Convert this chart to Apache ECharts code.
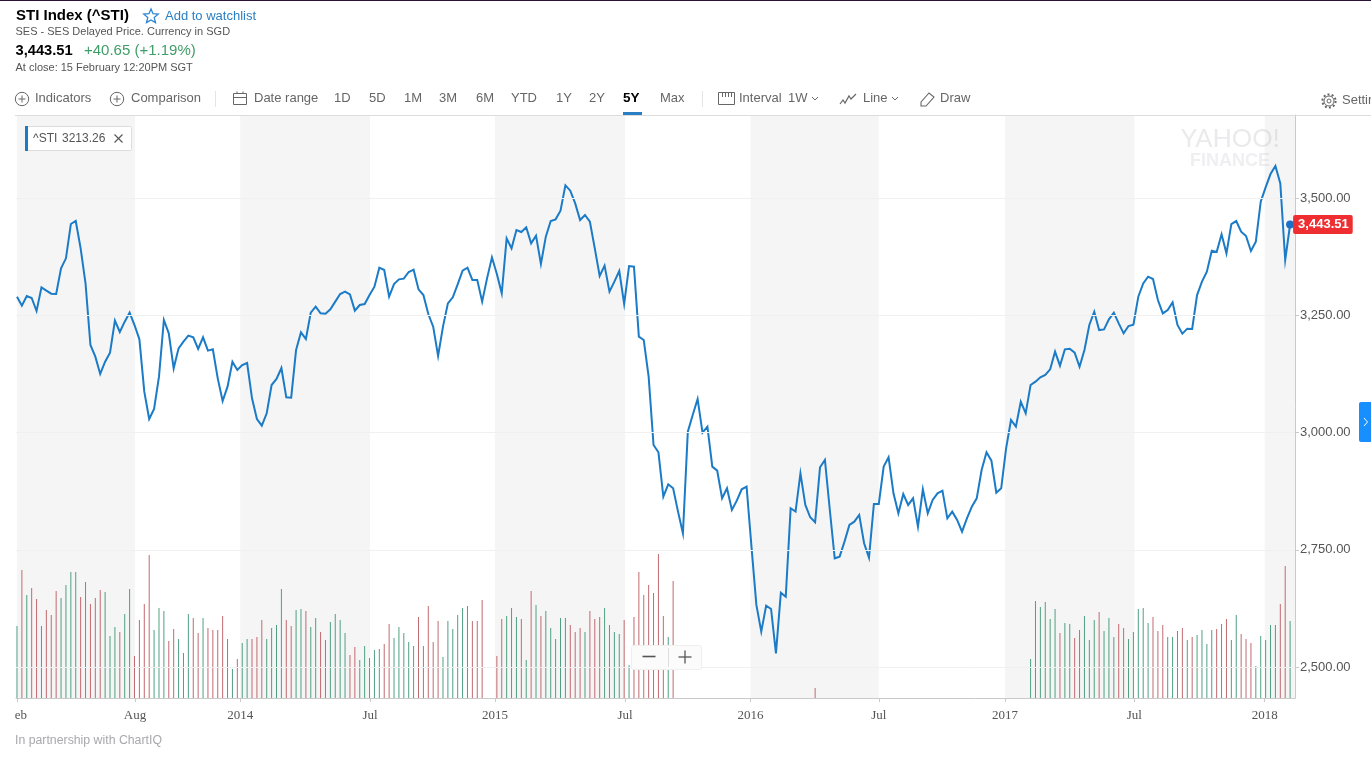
<!DOCTYPE html>
<html><head><meta charset="utf-8">
<style>html,body{margin:0;padding:0;background:#fff;overflow:hidden}#c{width:1371px;height:772px}</style>
<script src="https://cdn.jsdelivr.net/npm/echarts@6/dist/echarts.min.js"></script>
</head><body><div id="c"></div>
<script>
// ---- weekly closing prices (index = bar number) ----
const prices = [
3289.6,3270.5,3291.1,3286.8,3259.1,3309.5,3302.4,3296,3295.3,3350,
3371.4,3444.6,3451,3392.7,3318.1,3186.6,3161.7,3124.8,3151,3170.2,
3238.5,3214.3,3236.3,3255.5,3229.2,3198.7,3087.1,3028.8,3050.1,3119.1,
3239.9,3211.5,3136.8,3179.5,3193.7,3206.5,3202.9,3178.1,3202.9,3174.5,
3177.3,3115.5,3067.2,3097.7,3151,3133.3,3143.9,3148.2,3072.9,3028.8,
3014.6,3040.9,3101.3,3114.1,3137.5,3075,3074.3,3175.9,3213.6,3199.4,
3255.5,3268.3,3254.1,3253.4,3262.6,3279,3295.3,3300.3,3294.6,3259.8,
3271.9,3274,3293.2,3311,3351.5,3346.5,3289.6,3316.6,3326.6,3328,
3342.2,3347.2,3305.3,3293.2,3252.7,3225.7,3163.1,3225.7,3275.4,3288.2,
3315.9,3345.1,3351.5,3325.2,3325.2,3279,3328.7,3373.5,3338,3296.7,
3414,3392.7,3431.8,3427.5,3437.5,3403.3,3419.7,3359.3,3417.6,3451,
3454.5,3473,3527,3515.6,3488.6,3453.1,3463.8,3449.5,3392.7,3333.7,
3355.7,3300.3,3321.6,3344.4,3274,3355,3353.6,3204.3,3197.2,3119.1,
2973.4,2957.8,2863.2,2889.5,2881,2831.3,2785.1,3001.8,3037.4,3071.5,
2999.7,3012.5,2927.2,2918.7,2859.7,2881,2834.8,2854.7,2878.9,2884.6,
2756.6,2632.3,2575.4,2630.8,2623.7,2529.2,2658.6,2650,2838.4,2831.3,
2913,2845.5,2819.2,2808.5,2925.8,2941.4,2834.8,2731.8,2735.3,2767.3,
2802.8,2809.9,2824.2,2763.8,2733.2,2847.6,2847.6,2927.2,2947.1,2870.4,
2827.7,2868.9,2845.5,2859.7,2799.3,2878.9,2827.7,2856.1,2870.4,2876,
2817,2831.3,2813.5,2788.6,2817,2841.8,2859.6,2920,2957.7,2939.9,
2871.7,2880.9,2966.2,3026.6,3012.4,3065.7,3040.9,3101.3,3108.4,3117.6,
3122.6,3134.7,3172.3,3142.5,3177.3,3178.7,3170.2,3140.3,3175.9,3229.2,
3257.6,3218.5,3219.9,3241.3,3255.5,3232.7,3211.4,3227.1,3229.9,3289.6,
3318,3332.2,3327.3,3282.5,3254.1,3261.2,3277.5,3229.2,3210.7,3221.4,
3220.7,3293.1,3321.6,3342.9,3387.7,3384.8,3422.5,3382,3444.5,3450.9,
3428.2,3418.9,3387,3406.9,3492.1,3522.7,3551.1,3568.2,3531.2,3367.8,
3443.51];

// ---- volume per week in relative units (no scale in the picture); null = no bar ----
const volumes = [
72,128,103,110,99,72,88,83,107,100,
113,126,126,101,116,94,100,108,106,62,
71,66,84,109,42,78,94,143,68,90,
87,57,69,59,45,84,80,65,80,70,
68,68,82,59,29,39,55,59,59,61,
78,59,70,73,109,78,72,88,89,87,
71,80,66,58,76,84,78,65,43,51,
38,52,40,48,49,54,74,60,71,65,
56,52,81,52,92,56,77,41,77,69,
83,90,92,77,77,98,null,null,42,79,
82,90,81,79,38,107,93,82,87,70,
59,80,80,73,66,70,66,87,79,81,
90,73,66,64,78,33,81,126,103,113,
105,144,82,61,117,null,null,null,null,null,
null,null,null,null,null,null,null,null,null,null,
null,null,null,null,null,null,null,null,null,null,
null,null,null,10,null,null,null,null,null,null,
null,null,null,null,null,null,null,null,null,null,
null,null,null,null,null,null,null,null,null,null,
null,null,null,null,null,null,null,null,null,null,
null,null,null,null,null,null,null,39,97,91,
96,79,89,65,75,74,60,68,82,58,
78,86,67,80,61,74,70,59,66,89,
90,75,81,67,73,61,61,67,70,58,
61,63,68,54,68,69,74,79,58,83,
64,59,55,32,62,58,73,73,94,132,
77];

// G = higher week, R = lower week, . = no bar
const volumeSides = [
"GRGRRGRRRG","GGGRRRRRGG","GRGGRRRRGG","GRRGGGRRGR","RRRGGRGGRR",
"RGGGGRRGGR","GGRRGGGGRR","GGGGGRRGGG","GGRRRRRGGG","GGGRRR..RR",
"GRGRGRGRGG","GGGRRRGRRR","GRGGRGRRRR","RRRGR.....","..........",
"..........","...R......","..........","..........","..........",
".......GGG","GGGRGGRRGG","GRGGGRRGGG","GGRRRGGRRG","RGGGGRGRGG",
"RRRGGGGGRR","G"].join("");

const priceTicks = [2500, 2750, 3000, 3250, 3500];
const dateTickIndex = [0, 24.1, 45.6, 72.1, 97.6, 124.2, 149.8, 176, 201.8, 228.2, 254.8];
const dateTickLabels = ["eb", "Aug", "2014", "Jul", "2015", "Jul", "2016", "Jul", "2017", "Jul", "2018"];
const lastClose = 3443.51;

const SANS = "'Liberation Sans', Arial, sans-serif";
const BLUE = "#1b7bc6";

// ---- page chrome, drawn through the chart's graphic layer ----
const g = [];
function text(x, y, s, size, fill, opt) {
  opt = opt || {};
  g.push({type:"text", z:opt.z||20, silent:true, style:{x:x, y:y, text:s, fill:fill,
    font:(opt.weight?opt.weight+" ":"")+size+"px "+(opt.family||SANS),
    textAlign:opt.align||"left", textVerticalAlign:"middle", verticalAlign:"middle", opacity:opt.opacity==null?1:opt.opacity}});
}
function line(x1,y1,x2,y2,c,w,z){g.push({type:"line",z:z||20,silent:true,shape:{x1,y1,x2,y2},style:{stroke:c,lineWidth:w||1}});}
function poly(points,c,w){g.push({type:"polyline",z:20,silent:true,shape:{points},style:{stroke:c,lineWidth:w||1,fill:null}});}
function polygon(points,c,w){g.push({type:"polygon",z:20,silent:true,shape:{points},style:{stroke:c,lineWidth:w||1,fill:"none"}});}
function rect(x,y,w,h,fill,stroke,r,z){g.push({type:"rect",z:z||20,silent:true,shape:{x,y,width:w,height:h,r:r||0},style:{fill:fill,stroke:stroke||null,lineWidth:1}});}
function circle(cx,cy,r,c,w,dash){g.push({type:"circle",z:20,silent:true,shape:{cx,cy,r},style:{stroke:c,lineWidth:w||1,fill:"none",lineDash:dash||null}});}

const GREY="#666", DARK="#555", TS=13;
rect(0,0,1371,1,"#2b1237");
text(16,16,"STI Index (^STI)",15,"#000",{weight:"bold"});
const star=[];for(let k=0;k<10;k++){const a=-Math.PI/2+k*Math.PI/5,r=k%2?3.4:7.6;star.push([151+r*Math.cos(a),16.5+r*Math.sin(a)]);}
polygon(star,"#2b86d4",1.3);
text(165,16.5,"Add to watchlist",13,"#2a7fc4");
text(15.5,32,"SES - SES Delayed Price. Currency in SGD",11,DARK);
text(15.5,51,"3,443.51",14.7,"#000",{weight:"bold"});
text(84,51,"+40.65 (+1.19%)",15,"#3f9e68");
text(15.5,67.5,"At close: 15 February 12:20PM SGT",11,DARK);

const TY=98.5;
[[22,"Indicators",35],[117,"Comparison",131]].forEach(function(a){
  circle(a[0],TY+0.5,6.7,GREY,1); line(a[0]-3.5,TY+0.5,a[0]+3.5,TY+0.5,GREY,1); line(a[0],TY-3,a[0],TY+4,GREY,1);
  text(a[2],TY,a[1],TS,GREY);
});
line(215.5,91,215.5,107,"#e4e4e4");
rect(233.5,93.5,13,11,"none",GREY); line(233.5,97.5,246.5,97.5,GREY); line(237,91.5,237,94,GREY); line(243,91.5,243,94,GREY);
text(254,TY,"Date range",TS,GREY);
[["1D",334],["5D",369],["1M",404],["3M",439],["6M",476],["YTD",511],["1Y",556],["2Y",589]].forEach(function(a){text(a[1],TY,a[0],TS,GREY);});
text(623,TY,"5Y",13.5,"#000",{weight:"bold"});
rect(623,112,19,3,"#2a7fc4");
text(660,TY,"Max",TS,GREY);
line(702.5,91,702.5,107,"#e4e4e4");
rect(718.5,92.5,16,12,"none",GREY); [722,725,728,731].forEach(function(x){line(x+.5,92.5,x+.5,97,GREY);});
text(739,TY,"Interval",TS,GREY); text(788,TY,"1W",TS,GREY);
poly([[812,97],[815,100],[818,97]],GREY);
poly([[840,104],[843,100],[845,103],[849,96],[851,99],[856,94]],GREY,1.2);
text(863,TY,"Line",TS,GREY);
poly([[892,97],[895,100],[898,97]],GREY);
polygon([[921,102],[929,93],[934,97],[926,106],[921,106]],GREY,1.1);
text(940,TY,"Draw",TS,GREY);
circle(1329,101,2,GREY,1); circle(1329,101,5,GREY,1); circle(1329,101,6.6,GREY,2,[2,2.2]);
text(1342,TY+2,"Settings",TS,GREY);
line(15,115.5,1371,115.5,"#dcdcdc",1,9);

// series legend tag
rect(25.5,126.5,106,24,"#fff","#ddd",1);
rect(25,126,3,25,BLUE);
text(33,139,"^STI",12,DARK); text(62,139,"3213.26",12,DARK);
line(114.5,134.5,122.5,142.5,DARK,1.1); line(122.5,134.5,114.5,142.5,DARK,1.1);

// watermark
text(1181,139,"YAHOO!",25.5,"rgba(150,150,160,0.2)",{family:"Lato, "+SANS});
text(1190,161,"FINANCE",18,"rgba(150,150,160,0.15)",{weight:"bold"});

// zoom control
rect(631.5,645.5,70,24,"#fbfbfb","#efefef",2,30);
g.push({type:"line",z:31,silent:true,shape:{x1:668.5,y1:648,x2:668.5,y2:667},style:{stroke:"#ddd"}});
g.push({type:"line",z:31,silent:true,shape:{x1:642.5,y1:656.5,x2:655.5,y2:656.5},style:{stroke:"#555",lineWidth:1.6}});
g.push({type:"line",z:31,silent:true,shape:{x1:678.5,y1:657,x2:691.5,y2:657},style:{stroke:"#555",lineWidth:1.3}});
g.push({type:"line",z:31,silent:true,shape:{x1:685,y1:650.5,x2:685,y2:663.5},style:{stroke:"#555",lineWidth:1.3}});

// right edge tab
rect(1359,402,14,40,"#188fff",null,2);
poly([[1364,418],[1367.5,422],[1364,426]],"#fff",1);

text(15,741,"In partnership with ChartIQ",12.3,"#a8a8ad");

// ---- shaded alternating bands between date ticks ----
const bands=[];
for(let k=0;k<dateTickIndex.length;k+=2){
  bands.push([{xAxis:dateTickIndex[k]},{xAxis:k+1<dateTickIndex.length?dateTickIndex[k+1]:261}]);
}

const chart=echarts.init(document.getElementById("c"),null,{renderer:"canvas"});
chart.setOption({
  animation:false,
  backgroundColor:"#fff",
  grid:{left:16,right:76,top:115,bottom:74,containLabel:false},
  xAxis:{type:"value",min:-0.2,max:261,z:1,splitLine:{show:false},
    axisLine:{onZero:false,lineStyle:{color:"#c9c9c9"}},
    axisTick:{customValues:dateTickIndex,length:4,lineStyle:{color:"#c9c9c9"}},
    axisLabel:{customValues:dateTickIndex,margin:11,fontFamily:"'Liberation Serif',serif",fontSize:13,color:"#555",hideOverlap:false,
      formatter:function(v){const s=dateTickLabels[dateTickIndex.indexOf(v)];return v===0?"{first|"+s+"}":s;},
      rich:{first:{fontFamily:"'Liberation Serif',serif",fontSize:13,color:"#555",padding:[0,0,0,8]}}}},
  yAxis:[
    {type:"value",position:"right",min:2433.9,max:3677,z:1,
     axisLine:{show:true,onZero:false,lineStyle:{color:"#c9c9c9"}},
     axisTick:{show:true,customValues:priceTicks,length:4,lineStyle:{color:"#c9c9c9"}},
     axisLabel:{customValues:priceTicks,margin:5,fontFamily:SANS,fontSize:13,color:"#555",
       formatter:function(v){return v.toLocaleString("en-US",{minimumFractionDigits:2,maximumFractionDigits:2});}},
     splitLine:{show:false}},
    {type:"value",min:0,max:583,show:false,splitLine:{show:false}}
  ],
  graphic:{elements:g},
  series:[
    {name:"bands",type:"line",data:[],z:0,silent:true,symbol:"none",
     markArea:{silent:true,itemStyle:{color:"#f5f5f6"},data:bands},
     markLine:{silent:true,symbol:"none",label:{show:false},lineStyle:{color:"#f0f0f0",width:1,type:"solid"},
       data:priceTicks.map(function(v){return {yAxis:v};})}},
    {name:"Volume",type:"bar",yAxisIndex:1,barWidth:1,z:2,silent:true,
     data:volumes.map(function(v,i){return v==null?null:[i,v];}).filter(Boolean),
     itemStyle:{color:function(p){return volumeSides[p.value[0]]==="G"?"#4fa082":"#c26a70";}}},
    {name:"^STI",type:"line",z:3,silent:true,symbol:"none",smooth:false,clip:true,
     data:prices.map(function(v,i){return [i,v];}),lineStyle:{color:BLUE,width:2,join:"miter"}},
    {name:"Last",type:"scatter",z:4,silent:true,clip:false,symbolSize:8,
     data:[[prices.length-1,lastClose]],itemStyle:{color:"#1b6fc4",opacity:1},
     label:{show:true,position:"right",distance:-1,opacity:1,formatter:function(p){return p.value[1].toLocaleString("en-US",{minimumFractionDigits:2});},
       fontFamily:SANS,fontSize:13,fontWeight:"bold",color:"#fff",backgroundColor:"#ee2e30",borderRadius:2,padding:[3,4,3,5]}}
  ]
});
</script></body></html>
